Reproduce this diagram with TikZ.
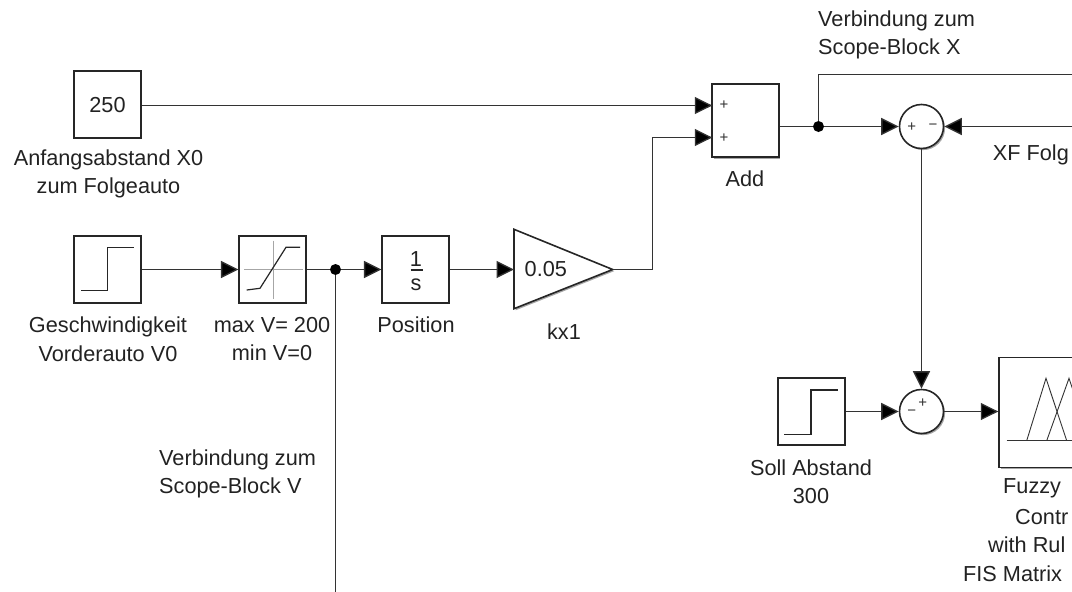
\documentclass[tikz,border=0pt]{standalone}
\usepackage{fontspec}
\setmainfont{Liberation Sans}
\usetikzlibrary{arrows.meta,shadows,calc}
\definecolor{wire}{HTML}{333333}
\definecolor{lbl}{HTML}{222222}
\tikzset{
  softshadow/.style={drop shadow={shadow xshift=1.6pt,shadow yshift=-1.6pt,fill=black,opacity=0.35}},
  blockbox/.style={draw=black!85,fill=white,line width=1.6pt,inner sep=0pt,minimum width=66.5pt,minimum height=66.5pt,softshadow},
  sumcirc/.style={circle,draw=black!85,fill=white,line width=1.6pt,inner sep=0pt,minimum size=44pt,softshadow},
  wireline/.style={draw=wire,line width=1.3pt},
  conn/.style={wireline,-{Triangle[length=17.5pt,width=17pt,fill=black]}},
  junction/.style={circle,fill=black,inner sep=0pt,minimum size=11pt},
  lab/.style={text=lbl,font=\fontsize{21.7}{28.5}\selectfont,align=center,inner sep=0pt},
  labl/.style={lab,align=left,anchor=west},
  sign/.style={text=black!80,font=\fontsize{15}{15}\selectfont,inner sep=0pt},
  iconline/.style={draw=black!85,line width=1.2pt},
  axisline/.style={draw=black!35,line width=0.7pt}
}
\begin{document}
\begin{tikzpicture}[x=1pt,y=-1pt]
\useasboundingbox (0,0) rectangle (1072,592);
\clip (0,0) rectangle (1072,592);
% blocks
\node[blockbox] (const) at (107.5,104.5) {};
\node[lab] (constv) at (107.5,105.5) {250};
\node[blockbox] (step) at (107.5,269.5) {};
\node[blockbox] (sat) at (272.5,269.5) {};
\node[blockbox] (intg) at (415.5,269.5) {};
\node[blockbox,minimum height=73pt] (add) at (745.5,120.6) {};
\node[blockbox] (soll) at (811.5,411.5) {};
\node[blockbox,minimum width=110pt,minimum height=110pt,anchor=north west] (fuzzy) at (998.3,356.7) {};
\node[sumcirc] (suma) at (921.5,126.5) {};
\node[sumcirc] (sumb) at (921.5,411.5) {};
\path[draw=black!85,fill=white,line width=1.6pt,line join=miter,softshadow] (514,229.3) -- (612.7,269.5) -- (514,308.7) -- cycle;
\coordinate (gaintip) at (612.7,269.5);
\coordinate (gainin) at (514,269.5);
% icons
\draw[iconline] (81,290.7) -- (107.7,290.7) -- (107.7,247.3) -- (134.3,247.3);
\draw[iconline] (784.3,434.3) -- (811,434.3) -- (811,390) -- (838.3,390);
\draw[axisline] (244,269.5) -- (303,269.5);
\draw[axisline] (273.3,240.7) -- (273.3,299.3);
\draw[iconline] (246.7,290) -- (260,288.3) -- (286,247.3) -- (300,247.3);
\node[lab] (one) at (416,259) {1};
\draw[iconline] (410.7,270) -- (423.3,270);
\node[lab] (ess) at (416,285) {s};
\node[lab,anchor=west] (gainv) at (524.5,269.5) {0.05};
\draw[line width=0.9pt,draw=black!80] (1006.7,440.7) -- (1072,440.7);
\draw[line width=0.9pt,draw=black!80] (1026.7,440.7) -- (1046,378.3) -- (1066.7,440.7);
\draw[line width=0.9pt,draw=black!80] (1046.7,440.7) -- (1069,378.3) -- (1090,440.7);
% signs
\node[sign] (adda) at (724,105) {+};
\node[sign] (addb) at (724,138) {+};
\node[sign] (sap) at (911.7,127) {+};
\node[sign] (sam) at (933,127) {−};
\node[sign] (sbp) at (922.7,402.7) {+};
\node[sign] (sbm) at (911.7,413) {−};
% coordinates
\coordinate (addina) at (712.3,105.5);
\coordinate (addinb) at (712.3,137.5);
\coordinate (bendg) at (652.5,269.5);
\coordinate (bendga) at (652.5,137.5);
\coordinate (topbend) at (818.5,74.5);
\coordinate (topend) at (1072,74.5);
\coordinate (xfend) at (1072,126.5);
\coordinate (vend) at (335.5,592);
\node[junction] (dotx) at (818.5,126.5) {};
\node[junction] (dotv) at (335.5,269.5) {};
% connectors
\draw[conn] (const.east |- addina) -- (addina);
\draw[conn] (step.east) -- (sat.west);
\draw[wireline] (sat.east) -- (dotv);
\draw[conn] (dotv) -- (intg.west);
\draw[wireline] (dotv) -- (vend);
\draw[conn] (intg.east) -- (gainin);
\draw[conn] (gaintip) -- (bendg) -- (bendga) -- (addinb);
\draw[wireline] (add.east |- dotx) -- (dotx);
\draw[conn] (dotx) -- (suma.west);
\draw[wireline] (dotx) -- (topbend) -- (topend);
\draw[conn] (xfend) -- (suma.east);
\draw[conn] (suma.south) -- (sumb.north);
\draw[conn] (soll.east) -- (sumb.west);
\draw[conn] (sumb.east) -- (fuzzy.west |- sumb.east);
% labels
\node[lab] (lconst) at (108.5,174) {Anfangsabstand X0\\zum Folgeauto};
\node[lab] (lstep) at (108,339) {Geschwindigkeit\\Vorderauto V0};
\node[lab] (lsat) at (272,339) {max V= 200\\min V=0};
\node[lab] (lint) at (416,325) {Position};
\node[lab] (lgain) at (564,332) {kx1};
\node[lab] (ladd) at (745,179) {Add};
\node[labl] (lx) at (818,35) {Verbindung zum\\Scope-Block X};
\node[labl] (lv) at (159,474) {Verbindung zum\\Scope-Block V};
\node[lab] (lsoll) at (811,481.5) {Soll Abstand\\300};
\node[labl] (lxf) at (992.7,155) {XF Folg};
\node[labl] (lfa) at (1003,488) {Fuzzy};
\node[labl] (lfb) at (1015,517) {Contr};
\node[labl] (lfc) at (988,545) {with Rul};
\node[labl] (lfd) at (963,574) {FIS Matrix};
\end{tikzpicture}
\end{document}
